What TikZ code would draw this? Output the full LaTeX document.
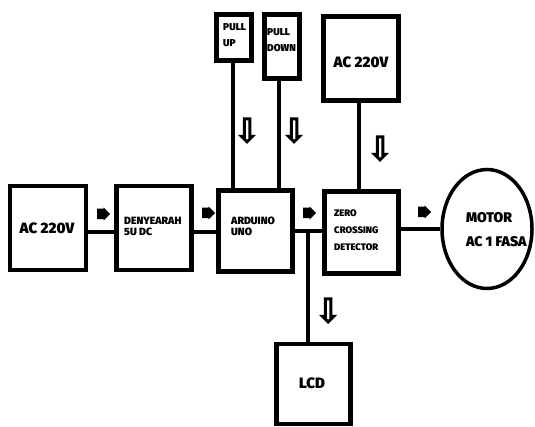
\documentclass[tikz,border=0pt]{standalone}
\usepackage{fontspec}
\setmainfont{Fira Sans}[BoldFont={Fira Sans Black}]
\usetikzlibrary{shapes.geometric,shapes.arrows}
\begin{document}
\begin{tikzpicture}[x=1pt,y=-1pt,
  box/.style={draw,line width=4.2pt,inner sep=0pt},
  conn/.style={line width=3.2pt},
  lbl/.style={font=\bfseries\fontsize{10.5}{12}\selectfont,align=left,inner sep=0pt,anchor=west},
  big/.style={font=\bfseries\fontsize{15}{18}\selectfont,inner sep=0pt},
  rarrow/.style={shape=single arrow,fill=black,inner xsep=0pt,inner ysep=4pt,minimum height=13pt,minimum width=13pt,single arrow head extend=1pt},
  darrow/.style={shape=single arrow,shape border rotate=270,draw,fill=white,line width=3pt,inner xsep=0pt,inner ysep=1.8pt,minimum height=23pt,minimum width=11pt,single arrow head extend=1.5pt}]
\useasboundingbox (0,0) rectangle (535,427);
% boxes
\node[box,minimum width=76pt,minimum height=84pt] (ac1) at (48,228) {};
\node[box,minimum width=75pt,minimum height=84pt] (den) at (154,228) {};
\node[box,minimum width=74pt,minimum height=81pt] (ard) at (255.5,231) {};
\node[box,minimum width=35pt,minimum height=46pt] (pu) at (234,37.5) {};
\node[box,minimum width=35pt,minimum height=64pt] (pd) at (282,46.5) {};
\node[box,minimum width=75pt,minimum height=84pt] (ac2) at (361,58.5) {};
\node[box,minimum width=74pt,minimum height=82pt] (zcd) at (361.5,232.5) {};
\node[box,minimum width=74pt,minimum height=80pt] (lcd) at (313.5,384) {};
\node[draw,line width=3.5pt,ellipse,minimum width=90pt,minimum height=119pt,inner sep=0pt] (motor) at (487,229) {};
% texts
\node[big] (t1) at (47,228) {AC 220V};
\node[lbl] (t2) at (124,226) {DENYEARAH\\[-1pt]5U DC};
\node[lbl] (t3) at (231,226) {ARDUINO\\[-1pt]UNO};
\node[lbl,font=\bfseries\fontsize{10}{16}\selectfont] (t4) at (223,35) {PULL\\UP};
\node[lbl,font=\bfseries\fontsize{10}{16}\selectfont] (t5) at (267,40) {PULL\\DOWN};
\node[big] (t6) at (361,62) {AC 220V};
\node[lbl,font=\bfseries\fontsize{9.5}{17}\selectfont] (t7) at (334,230) {ZERO\\CROSSING\\DETECTOR};
\node[big,font=\bfseries\fontsize{14}{24}\selectfont,align=left,anchor=west] (t8) at (466,230) {MOTOR\\AC 1 FASA};
\node[big] (t9) at (312,383) {LCD};
% connectors
\draw[conn] ([yshift=-4pt]ac1.east) -- ([yshift=-4pt]den.west);
\draw[conn] ([yshift=-4pt]den.east) -- ([yshift=-1pt]ard.west);
\draw[conn] (ard.east) -- (zcd.west |- ard.east);
\coordinate (j) at (308,231);
\draw[conn] (j) -- (j |- lcd.north);
\draw[conn] ([xshift=-1pt]pu.south) -- ([xshift=-1pt]pu.south |- ard.north);
\draw[conn] ([xshift=-3pt]pd.south) -- ([xshift=-3pt]pd.south |- ard.north);
\draw[conn] ([xshift=-2pt]ac2.south) -- ([xshift=-2pt]ac2.south |- zcd.north);
\draw[conn] (zcd.east |- motor.west) -- (motor.west);
% arrow marks
\node[rarrow] (r1) at (101,214) {};
\node[rarrow] (r2) at (206,213) {};
\node[rarrow] (r3) at (307,213) {};
\node[rarrow] (r4) at (422,212) {};
\node[darrow] (d1) at (247,129) {};
\node[darrow] (d2) at (294,129) {};
\node[darrow] (d3) at (380,147) {};
\node[darrow] (d4) at (328,309) {};
\end{tikzpicture}
\end{document}
